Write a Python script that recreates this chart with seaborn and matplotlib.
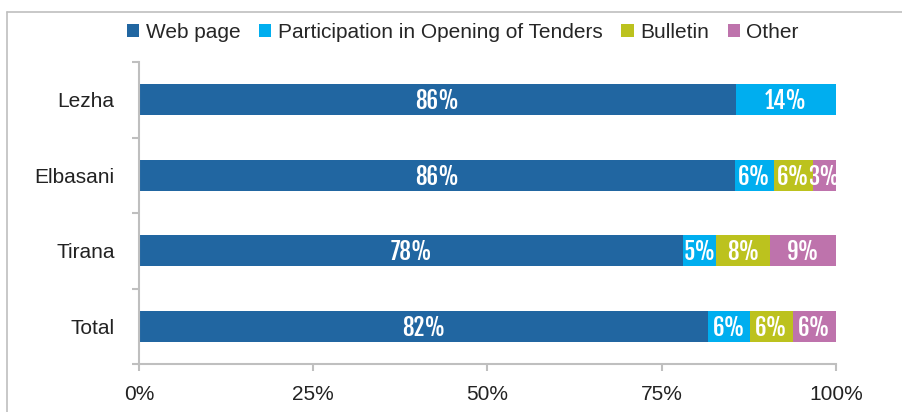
import numpy as np
import pandas as pd
import matplotlib
matplotlib.use("Agg")
import matplotlib.pyplot as plt
from matplotlib import font_manager
from matplotlib.lines import Line2D
from matplotlib.patches import Patch
import seaborn as sns

# ======================
# DATA
# ======================
regions = ["Lezha", "Elbasani", "Tirana", "Total"]
web_page = [85.6, 85.5, 78.1, 81.6]
participation = [14.4, 5.6, 4.7, 6.0]
bulletin = [0.0, 5.6, 7.8, 6.2]
other = [0.0, 3.3, 9.4, 6.2]

series_names = ["Web page", "Participation in Opening of Tenders", "Bulletin", "Other"]
colors = ["#2166A1", "#00AEEF", "#BCC21E", "#BE73AC"]
x_ticks = [0, 25, 50, 75, 100]

# ======================
# STYLE
# ======================
sns.set_style("white")
plt.rcParams["font.family"] = ["Liberation Sans", "DejaVu Sans"]

# condensed heavy font for the numbers inside the bars
fonts = font_manager.fontManager.ttflist
label_family = "DejaVu Sans"
for cand in ["Fjalla One", "Roboto Condensed", "Barlow Condensed", "Oswald"]:
    if any(f.name == cand for f in fonts):
        label_family = cand
        break

df = pd.DataFrame({
    "Region": regions,
    series_names[0]: web_page,
    series_names[1]: participation,
    series_names[2]: bulletin,
    series_names[3]: other,
})
cum = df[series_names].cumsum(axis=1)

fig = plt.figure(figsize=(9.02, 4.12), dpi=100)
ax = fig.add_axes([139 / 902, 1 - 364 / 412, (836 - 139) / 902, (364 - 62) / 412])

# stacked bars: draw cumulative totals from the last series to the first
for name, col in reversed(list(zip(series_names, colors))):
    sns.barplot(x=cum[name], y=df["Region"], color=col, orient="h",
                width=0.41, saturation=1, ax=ax, edgecolor="none")

# segment labels
for i, reg in enumerate(regions):
    for name in series_names:
        v = df.loc[i, name]
        if v <= 0:
            continue
        center = cum.loc[i, name] - v / 2
        ax.text(center, i + 0.02, f"{int(v + 0.5)}%", ha="center", va="center",
                color="white", fontsize=16.5, family=[label_family, "DejaVu Sans"],
                weight="bold")

ax.set_xlim(0, 100)
ax.set_ylim(3.5, -0.5)
ax.set_xticks(x_ticks)
ax.set_xticklabels([f"{t}%" for t in x_ticks], fontsize=15, color="#222222")
ax.set_yticks(range(len(regions)))
ax.set_yticklabels(regions, fontsize=15, color="#222222")
ax.set_yticks(np.arange(-0.5, len(regions)), minor=True)
ax.set_xlabel("")
ax.set_ylabel("")

spine_col = "#BFBFBF"
for s in ["top", "right"]:
    ax.spines[s].set_visible(False)
for s in ["left", "bottom"]:
    ax.spines[s].set_color(spine_col)
    ax.spines[s].set_linewidth(1.5)

ax.tick_params(axis="x", which="major", bottom=True, length=5, width=1.5,
               color=spine_col, pad=10)
ax.tick_params(axis="y", which="major", left=False, pad=14)
ax.tick_params(axis="y", which="minor", left=True, length=5, width=1.5,
               color=spine_col)

handles = [Patch(facecolor=c, edgecolor="none") for c in colors]
fig.legend(handles, series_names, loc="center", bbox_to_anchor=(0.513, 0.922),
           ncol=4, frameon=False, fontsize=15, handlelength=0.6,
           handleheight=0.6, handletextpad=0.3, columnspacing=0.9)

# outer frame (open on the right and bottom)
fig.add_artist(Line2D([7 / 902, 1], [1 - 12 / 412, 1 - 12 / 412],
                      transform=fig.transFigure, color=spine_col, lw=1.2))
fig.add_artist(Line2D([7 / 902, 7 / 902], [0, 1 - 12 / 412],
                      transform=fig.transFigure, color=spine_col, lw=1.2))

fig.savefig("out.png", dpi=100)
